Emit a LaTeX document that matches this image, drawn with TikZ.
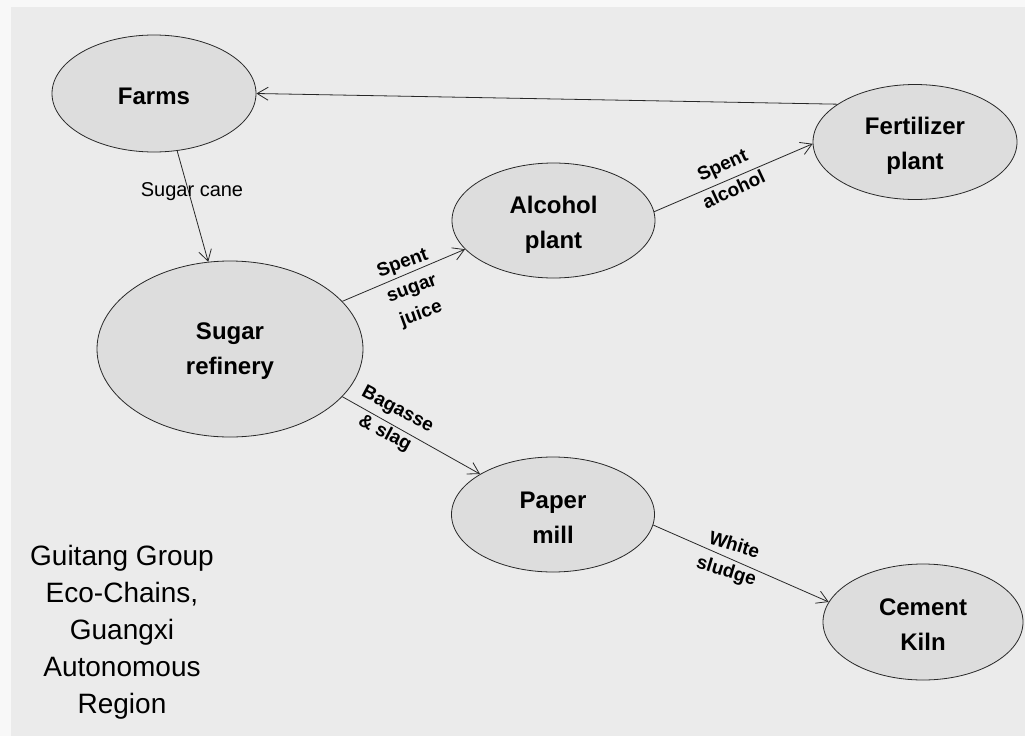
\documentclass[tikz,border=0pt]{standalone}
\usepackage{fontspec}
\setmainfont{Liberation Sans}
\usetikzlibrary{shapes.geometric,arrows.meta}
\definecolor{bgcol}{RGB}{235,235,235}
\definecolor{edgecol}{RGB}{248,248,248}
\definecolor{ellfill}{RGB}{221,221,221}
\definecolor{inkcol}{RGB}{40,40,40}
\tikzset{
  ell/.style={ellipse, draw=inkcol, line width=0.8pt, fill=ellfill, inner sep=0pt},
  elltext/.style={inner sep=0pt, align=center, font=\bfseries\fontsize{24}{35}\selectfont},
  arr/.style={draw=inkcol, line width=0.8pt, -{Straight Barb[length=11pt,width=13pt,line width=0.8pt]}},
  elab/.style={inner sep=0pt, font=\fontsize{20}{24}\selectfont},
  rlab/.style={inner sep=0pt, align=center, font=\bfseries\fontsize{19}{27}\selectfont},
  titletext/.style={inner sep=0pt, align=center, font=\fontsize{28}{37}\selectfont}
}
\begin{document}
\begin{tikzpicture}[x=1pt,y=-1pt]
\useasboundingbox (0,0) rectangle (1025,736);
\fill[edgecol] (0,0) rectangle (1025,736);
\fill[bgcol] (11,7) rectangle (1025,736);

\node[ell, minimum width=204pt, minimum height=117pt] (farms) at (154,93.5) {};
\node[ell, minimum width=204pt, minimum height=115pt] (fert) at (915,142) {};
\node[ell, minimum width=203pt, minimum height=115pt] (alcohol) at (553.5,220.5) {};
\node[ell, minimum width=266pt, minimum height=176pt] (sugar) at (230,349) {};
\node[ell, minimum width=203pt, minimum height=115pt] (paper) at (553,514.5) {};
\node[ell, minimum width=200pt, minimum height=116pt] (cement) at (923,622) {};

\node[elltext] (farmstxt) at ([yshift=-2.5pt]farms.center) {Farms};
\node[elltext] (ferttxt) at ([yshift=-4pt]fert.center) {Fertilizer\\plant};
\node[elltext] (alcoholtxt) at ([yshift=-4pt]alcohol.center) {Alcohol\\plant};
\node[elltext] (sugartxt) at ([yshift=-2pt]sugar.center) {Sugar\\refinery};
\node[elltext] (papertxt) at ([yshift=-3pt]paper.center) {Paper\\mill};
\node[elltext] (cementtxt) at ([yshift=-3pt]cement.center) {Cement\\Kiln};

\draw[arr] (fert.154) -- (farms.east);
\draw[arr] (farms.-68) -- (sugar.104);
\draw[arr] (sugar.23) -- (alcohol.198);
\draw[arr] (sugar.-23) -- (paper.151);
\draw[arr] (alcohol.5) -- (fert.181);
\draw[arr] (paper.-6) -- (cement.168);

\node[elab] (lcane) at (192,192) {Sugar cane};
\node[rlab, rotate=20] (ljuice) at (412,289) {Spent\\sugar\\juice};
\node[rlab, rotate=-28] (lbag) at (391,422) {Bagasse\\\& slag};
\node[rlab, rotate=25] (lalc) at (728,177) {Spent\\alcohol};
\node[rlab, rotate=-17] (lwhite) at (730,559) {White\\sludge};

\node[titletext] (title) at (122,632) {Guitang Group\\Eco-Chains,\\Guangxi\\Autonomous\\Region};
\end{tikzpicture}
\end{document}
